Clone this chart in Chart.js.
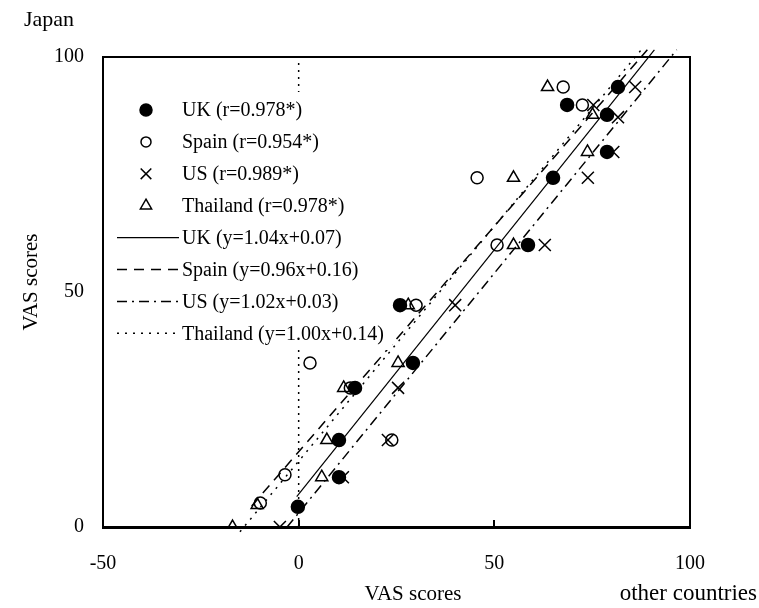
<!DOCTYPE html>
<html>
<head>
<meta charset="utf-8">
<script src="https://cdn.jsdelivr.net/npm/chart.js@4.4.1/dist/chart.umd.min.js"></script>
<style>
  body { margin: 0; background: #fff; }
  #wrap { width: 759px; height: 608px; }
</style>
</head>
<body>
<div id="wrap"><canvas id="vasChart" width="759" height="608"></canvas></div>
<script>
// VAS scores: other countries (x) against Japan (y)
const ukX    = [-0.2, 10.3, 10.3, 14.4, 29.2, 25.9, 58.6, 65.0, 78.8, 78.8, 68.6, 81.6];
const ukY    = [ 4.3, 10.6, 18.5, 29.6, 34.9, 47.2, 60.0, 74.3, 79.8, 87.7, 89.8, 93.6];
const spainX = [-9.8, -3.5, 23.8, 13.2,  2.9, 30.0, 50.7, 45.6, 72.5, 67.6];
const spainY = [ 5.1, 11.1, 18.5, 29.6, 34.9, 47.2, 60.0, 74.3, 89.8, 93.6];
const usX    = [-4.8, 11.3, 22.8, 25.4, 40.0, 62.9, 73.9, 80.4, 81.6, 75.3, 86.0];
const usY    = [ 0.0, 10.6, 18.5, 29.6, 47.2, 60.0, 74.3, 79.8, 87.2, 89.8, 93.6];
const thaiX  = [-16.9, -10.6, 5.9, 7.2, 11.5, 25.4, 28.0, 54.9, 54.9, 73.8, 75.1, 63.6];
const thaiY  = [  0.0,   4.7, 10.6, 18.5, 29.6, 34.9, 47.2, 60.0, 74.3, 79.8, 87.7, 93.6];

const countries = ['UK', 'Spain', 'US', 'Thailand'];
const corrLabels = ['UK (r=0.978*)', 'Spain (r=0.954*)', 'US (r=0.989*)', 'Thailand (r=0.978*)'];
const fitLabels = ['UK (y=1.04x+0.07)', 'Spain (y=0.96x+0.16)', 'US (y=1.02x+0.03)', 'Thailand (y=1.00x+0.14)'];

// regression lines (VAS 0-100), with the x range over which each is drawn
const fitSlope     = [1.04, 0.96, 1.02, 1.00];
const fitIntercept = [7, 16, 3, 14];
const fitXStart    = [-0.5, -12, -3, -15];
const fitXEnd      = [90.9, 89.1, 96.6, 87.5];

const xTicks = [-50, 0, 50, 100];
const yTicks = [0, 50, 100];

const FONT = 'Liberation Serif';

function pairs(xs, ys) {
    return xs.map((x, i) => ({ x: x, y: ys[i] }));
}

function fitLine(i) {
    const a = fitSlope[i], b = fitIntercept[i];
    return [
        { x: fitXStart[i], y: a * fitXStart[i] + b },
        { x: fitXEnd[i], y: a * fitXEnd[i] + b }
    ];
}

const pointSets = [
    { data: pairs(ukX, ukY), pointStyle: 'circle', radius: 6.5, fill: '#000', legendRadius: 6 },
    { data: pairs(spainX, spainY), pointStyle: 'circle', radius: 6, fill: 'rgba(0,0,0,0)', legendRadius: 5 },
    { data: pairs(usX, usY), pointStyle: 'crossRot', radius: 8.5, fill: 'rgba(0,0,0,0)', legendRadius: 7.5 },
    { data: pairs(thaiX, thaiY), pointStyle: 'triangle', radius: 7, fill: 'rgba(0,0,0,0)', legendRadius: 6.5 }
];
const lineDash = [[], [10, 7], [10, 5, 2, 5], [2, 6]];
const lineWidths = [1.2, 1.5, 1.5, 1.5];

const datasets = [];
pointSets.forEach((p, i) => {
    datasets.push({
        label: corrLabels[i],
        data: p.data,
        pointStyle: p.pointStyle,
        pointRadius: p.radius,
        pointBackgroundColor: p.fill,
        pointBorderColor: '#000',
        pointBorderWidth: 1.5,
        showLine: false,
        legendRadius: p.legendRadius,
        kind: 'point',
        order: 1
    });
});
fitLabels.forEach((lbl, i) => {
    datasets.push({
        label: lbl,
        data: fitLine(i),
        showLine: true,
        borderColor: '#000',
        borderWidth: lineWidths[i],
        borderDash: lineDash[i],
        pointRadius: 0,
        clip: false,
        kind: 'line',
        order: 2
    });
});
// dotted reference line at x = 0
datasets.push({
    label: 'x=0',
    data: [{ x: 0, y: 0 }, { x: 0, y: 99 }],
    showLine: true,
    borderColor: '#000',
    borderWidth: 1.5,
    borderDash: [2, 5],
    pointRadius: 0,
    kind: 'ref',
    order: 3
});

const annotationsPlugin = {
    id: 'figureText',
    afterDatasetsDraw(chart) {
        const ctx = chart.ctx;
        ctx.save();
        // legend sits on a white panel inside the frame
        ctx.fillStyle = '#fff';
        ctx.fillRect(106, 92, 286, 258);
        ctx.fillStyle = '#000';
        ctx.font = '20px "' + FONT + '"';
        ctx.textBaseline = 'middle';

        const rowY0 = 110, rowStep = 31.9;
        let row = 0;
        chart.data.datasets.forEach(ds => {
            if (ds.kind === 'ref') return;
            const y = rowY0 + rowStep * row;
            if (ds.kind === 'point') {
                ctx.save();
                ctx.strokeStyle = '#000';
                ctx.fillStyle = ds.pointBackgroundColor;
                ctx.lineWidth = 1.5;
                Chart.helpers.drawPoint(ctx, { pointStyle: ds.pointStyle, radius: ds.legendRadius, rotation: 0, borderWidth: 1.5 }, 146, y);
                ctx.restore();
            } else {
                ctx.save();
                ctx.strokeStyle = '#000';
                ctx.lineWidth = ds.borderWidth;
                ctx.setLineDash(ds.borderDash);
                ctx.beginPath();
                ctx.moveTo(117, y);
                ctx.lineTo(179, y);
                ctx.stroke();
                ctx.restore();
            }
            ctx.textAlign = 'left';
            ctx.fillText(ds.label, 182, y + 1);
            row++;
        });
        ctx.restore();
    },
    afterDraw(chart) {
        const ctx = chart.ctx;
        ctx.save();
        ctx.fillStyle = '#000';
        ctx.textBaseline = 'middle';
        ctx.font = '22px "' + FONT + '"';
        ctx.textAlign = 'left';
        ctx.fillText('Japan', 24, 20);
        ctx.font = '21px "' + FONT + '"';
        ctx.textAlign = 'center';
        ctx.fillText('VAS scores', 413, 594);
        ctx.save();
        ctx.translate(31, 282);
        ctx.rotate(-Math.PI / 2);
        ctx.fillText('VAS scores', 0, 0);
        ctx.restore();
        ctx.font = '23px "' + FONT + '"';
        ctx.textAlign = 'right';
        ctx.fillText('other countries', 757, 594);
        ctx.restore();
    }
};

new Chart(document.getElementById('vasChart'), {
    type: 'scatter',
    data: { datasets: datasets },
    options: {
        responsive: false,
        animation: false,
        events: [],
        layout: { padding: { top: 57, right: 69, left: 0, bottom: 0 } },
        plugins: {
            legend: { display: false },
            tooltip: { enabled: false }
        },
        scales: {
            x: {
                type: 'linear',
                position: 'bottom',
                min: -50,
                max: 100,
                afterFit(s) { s.height = 81; },
                afterBuildTicks(s) { s.ticks = xTicks.map(v => ({ value: v })); },
                grid: { display: true, drawOnChartArea: false, drawTicks: true, tickLength: -7, color: '#000', lineWidth: 2 },
                border: { display: true, color: '#000', width: 3 },
                ticks: { color: '#000', font: { family: FONT, size: 20 }, padding: 32, maxRotation: 0 }
            },
            y: {
                type: 'linear',
                position: 'left',
                min: 0,
                max: 100,
                afterFit(s) { s.width = 103; },
                afterBuildTicks(s) { s.ticks = yTicks.map(v => ({ value: v })); },
                grid: { display: false },
                border: { display: true, color: '#000', width: 2 },
                ticks: { color: '#000', font: { family: FONT, size: 20 }, padding: 11 }
            },
            xTop: {
                type: 'linear',
                position: 'top',
                min: -50,
                max: 100,
                afterFit(s) { s.height = 0; },
                grid: { display: false },
                border: { display: true, color: '#000', width: 2 },
                ticks: { display: false }
            },
            yRight: {
                type: 'linear',
                position: 'right',
                min: 0,
                max: 100,
                afterFit(s) { s.width = 0; },
                grid: { display: false },
                border: { display: true, color: '#000', width: 2 },
                ticks: { display: false }
            }
        }
    },
    plugins: [annotationsPlugin]
});
</script>
</body>
</html>
